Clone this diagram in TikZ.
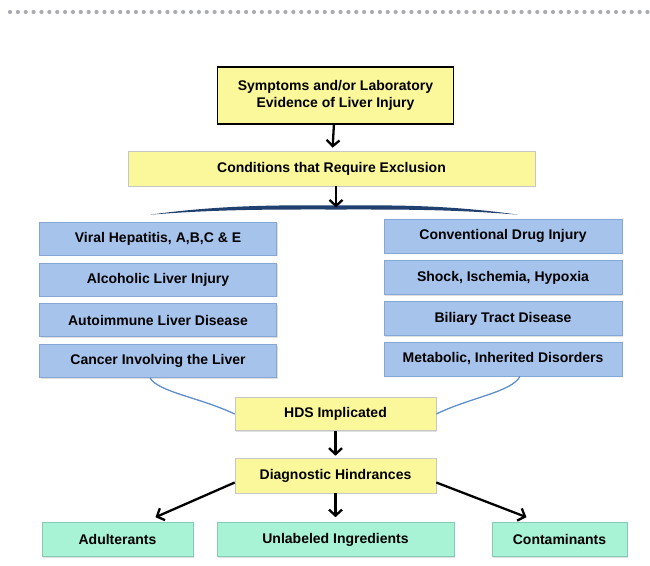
\documentclass[tikz,border=0pt]{standalone}
\usepackage{fontspec}
\setmainfont{Liberation Sans}
\usepackage{tikz}
\usepackage{xcolor}
\usetikzlibrary{arrows.meta,shadows}
\definecolor{pale-yellow}{HTML}{FBF89C}
\definecolor{pale-blue}{HTML}{A6C3EC}
\definecolor{blue-line}{HTML}{86A6D6}
\definecolor{pale-green}{HTML}{A8F2D6}
\definecolor{green-line}{HTML}{86C9B4}
\definecolor{brace-blue}{HTML}{20406F}
\definecolor{curve-blue}{HTML}{5E8FCB}
\definecolor{dot-gray}{HTML}{ABABB2}
\tikzset{
    base-box/.style = {rectangle, align=center, font=\fontsize{14}{17}\selectfont\bfseries, inner sep=2pt},
    box-shadow/.style = {drop shadow={opacity=0.25, shadow xshift=1.2pt, shadow yshift=-1.2pt}},
    title-box/.style = {base-box, draw=black, fill=pale-yellow, line width=1.8pt},
    yellow-box/.style = {base-box, draw=gray!45, fill=pale-yellow, line width=0.6pt, box-shadow},
    blue-box/.style = {base-box, draw=blue-line, fill=pale-blue, line width=0.6pt, box-shadow, minimum width=237, minimum height=33},
    green-box/.style = {base-box, draw=green-line, fill=pale-green, line width=0.6pt, box-shadow, minimum height=34},
    flow-arrow/.style = {-{Straight Barb[length=6pt,width=13pt]}, line width=2.3pt, black},
}

\begin{document}
\begin{tikzpicture}[x=1pt, y=-1pt]
\useasboundingbox[fill=white] (0,0) rectangle (650,565);
\foreach \i in {0,...,81}
    \fill[dot-gray] (10+\i*7.87,12) circle (2.1);

\node[title-box, minimum width=236, minimum height=57] (symptoms) at (335.5,95.5)
    {Symptoms and/or Laboratory\\Evidence of Liver Injury};
\node[yellow-box, minimum width=407, minimum height=35] (exclusion) at (331.5,168.5)
    {Conditions that Require Exclusion};

\node[blue-box] (viral) at (158,238.5) {Viral Hepatitis, A,B,C \& E};
\node[blue-box] (alcohol) at (158,279.5) {Alcoholic Liver Injury};
\node[blue-box] (autoimmune) at (158,320) {Autoimmune Liver Disease};
\node[blue-box] (cancer) at (158,361) {Cancer Involving the Liver};
\node[blue-box, minimum width=238, minimum height=34] (drug) at (503,236) {Conventional Drug Injury};
\node[blue-box, minimum width=238, minimum height=34] (shock) at (503,277.5) {Shock, Ischemia, Hypoxia};
\node[blue-box, minimum width=238, minimum height=34] (biliary) at (503,318.5) {Biliary Tract Disease};
\node[blue-box, minimum width=238, minimum height=34] (metabolic) at (503,359) {Metabolic, Inherited Disorders};

\node[yellow-box, minimum width=201, minimum height=33] (hds) at (335.5,414) {HDS Implicated};
\node[yellow-box, minimum width=201, minimum height=35] (hindrances) at (335.5,475.5) {Diagnostic Hindrances};

\node[green-box, minimum width=151] (adulterants) at (117.5,539.5) {Adulterants};
\node[green-box, minimum width=237] (unlabeled) at (335.5,539.5) {Unlabeled Ingredients};
\node[green-box, minimum width=135] (contaminants) at (559.5,539.5) {Contaminants};

\coordinate (brace-left) at ([xshift=-8pt, yshift=7pt]viral.north);
\coordinate (brace-right) at ([xshift=15pt, yshift=4pt]drug.north);
\coordinate (brace-mid) at (336,207.5);
\fill[brace-blue] (brace-left) .. controls (220,205) and (280,205) .. ([yshift=2pt]brace-mid)
    .. controls (392,205) and (450,205) .. (brace-right)
    .. controls (450,209) and (392,209.5) .. ([yshift=-2pt]brace-mid)
    .. controls (280,209.5) and (220,209) .. cycle;

\draw[curve-blue, line width=1.3pt] ([xshift=-8pt]cancer.south) .. controls (158,392) and (200,397.5) .. (hds.west);
\draw[curve-blue, line width=1.3pt] ([xshift=17pt]metabolic.south) .. controls (512,392) and (470,397.5) .. (hds.east);

\draw[flow-arrow, shorten >=3pt] (symptoms) -- (exclusion);
\draw[flow-arrow, shorten >=1pt] (exclusion.south -| brace-mid) -- ([yshift=-1pt]brace-mid);
\draw[flow-arrow, shorten >=2pt] (hds) -- (hindrances);
\draw[flow-arrow] ([yshift=-7pt]hindrances.west) -- ([xshift=38pt, yshift=5pt]adulterants.north);
\draw[flow-arrow, shorten >=5pt] (hindrances) -- (unlabeled);
\draw[flow-arrow] ([yshift=-7pt]hindrances.east) -- ([xshift=-33pt, yshift=5pt]contaminants.north);
\end{tikzpicture}
\end{document}
